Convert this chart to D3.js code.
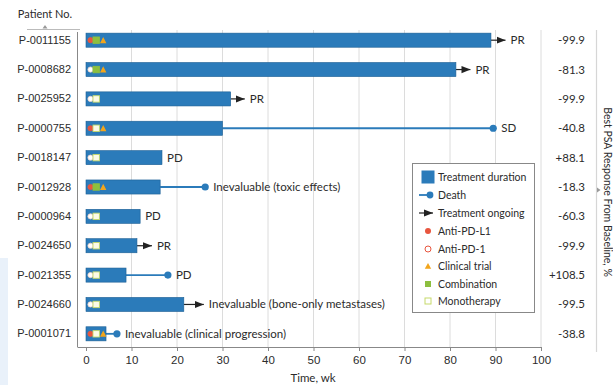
<!DOCTYPE html>
<html>
<head>
<meta charset="utf-8">
<script src="https://cdn.jsdelivr.net/npm/d3@7"></script>
<style>
  html, body { margin: 0; padding: 0; background: #fff; }
  svg { display: block; font-family: Lato, "Open Sans", sans-serif; }
</style>
</head>
<body>
<svg id="chart" width="613" height="385"></svg>
<script>
// Patients, top to bottom
const patients = ["P-0011155","P-0008682","P-0025952","P-0000755","P-0018147","P-0012928","P-0000964","P-0024650","P-0021355","P-0024660","P-0001071"];
// Weeks on treatment
const duration = [89, 81.3, 31.8, 30, 16.7, 16.3, 11.9, 11.2, 8.8, 21.5, 4.4];
// Week of death (null = none recorded)
const deathWeek = [null, null, null, 89.5, null, 26.2, null, null, 18, null, 6.8];
// Treatment still ongoing: week the arrow reaches (null = stopped)
const ongoingTo = [92.2, 84.5, 34.9, null, null, null, null, 14.5, null, 25.9, null];
// Best response
const response = ["PR","PR","PR","SD","PD","Inevaluable (toxic effects)","PD","PR","PD","Inevaluable (bone-only metastases)","Inevaluable (clinical progression)"];
// Agent: "L1" = anti-PD-L1, "P1" = anti-PD-1
const agent = ["L1","P1","P1","L1","P1","L1","P1","P1","P1","P1","L1"];
// Regimen: true = combination, false = monotherapy
const combination = [true, true, false, false, false, true, false, false, false, false, false];
// Enrolled in a clinical trial
const trial = [true, true, false, true, false, true, false, false, false, false, true];
// Best PSA response from baseline, %
const psa = ["-99.9","-81.3","-99.9","-40.8","+88.1","-18.3","-60.3","-99.9","+108.5","-99.5","-38.8"];
const xTicks = [0,10,20,30,40,50,60,70,80,90,100];

const blue = "#2b7bba", blueDark = "#1d5f94";
const red = "#e8553e", orange = "#f2a51c", green = "#8dbf3f", monoEdge = "#c6d96a", monoFill = "#fbfbe8";
const txt = "#2b2b2b";

const svg = d3.select("#chart");

// faint panel at the left edge
svg.append("rect").attr("x", 0).attr("y", 258).attr("width", 8).attr("height", 127).attr("fill", "#e9f1fa");

const x = d3.scaleLinear().domain([0, 100]).range([86, 541]);
const y = d3.scaleBand().domain(patients).range([25.5, 348.5]).paddingInner(0.52).paddingOuter(0.26);
const plotTop = 30, axisY = 347;

// grid
svg.append("g").selectAll("line").data(xTicks.slice(1)).join("line")
  .attr("x1", d => x(d)).attr("x2", d => x(d))
  .attr("y1", plotTop).attr("y2", axisY)
  .attr("stroke", "#dcdcdc").attr("stroke-width", 1);

// left spine
svg.append("line").attr("x1", 77.5).attr("x2", 77.5).attr("y1", 32).attr("y2", axisY)
  .attr("stroke", "#888").attr("stroke-width", 1);

// PSA column separator
svg.append("line").attr("x1", 596.5).attr("x2", 596.5).attr("y1", plotTop).attr("y2", 352)
  .attr("stroke", "#d6d6d6").attr("stroke-width", 1.2);

// x axis
const xAxis = d3.axisBottom(x).tickValues(xTicks).tickSize(4).tickPadding(5);
const gx = svg.append("g").attr("transform", `translate(0,${axisY})`).call(xAxis);
gx.select(".domain").attr("d", `M77.5,0.5H${x(100)}`).attr("stroke", "#888");
gx.selectAll(".tick line").attr("stroke", "#888");
gx.selectAll(".tick text").attr("fill", txt).attr("font-size", 11.5);
svg.append("text").attr("x", 313).attr("y", 382).attr("text-anchor", "middle")
  .attr("font-size", 11.5).attr("fill", txt).text("Time, wk");

// y axis labels
const yAxis = d3.axisLeft(y).tickSize(0).tickPadding(7);
const gy = svg.append("g").attr("transform", "translate(78,0)").call(yAxis);
gy.select(".domain").remove();
gy.selectAll(".tick text").attr("fill", txt).attr("font-size", 11);

// header
svg.append("text").attr("x", 45).attr("y", 18).attr("text-anchor", "middle")
  .attr("font-size", 11).attr("fill", txt).text("Patient No.");
svg.append("line").attr("x1", 27).attr("x2", 80).attr("y1", 29.5).attr("y2", 29.5)
  .attr("stroke", "#bbb");
svg.append("path").attr("d", "M42.5,28.5L45,25L47.5,28.5Z").attr("fill", "#999");

const defs = svg.append("defs");
defs.append("marker").attr("id", "arrow").attr("viewBox", "0 0 10 10")
  .attr("refX", 10).attr("refY", 5).attr("markerWidth", 9).attr("markerHeight", 9)
  .attr("markerUnits", "userSpaceOnUse").attr("orient", "auto")
  .append("path").attr("d", "M0,1L10,5L0,9Z").attr("fill", "#222");

const rows = patients.map((p, i) => ({ p, i }));
const cy = d => y(d.p) + y.bandwidth() / 2;

// death connectors
const dead = rows.filter(d => deathWeek[d.i] != null);
svg.append("g").selectAll("line").data(dead).join("line")
  .attr("x1", d => x(duration[d.i])).attr("x2", d => x(deathWeek[d.i]))
  .attr("y1", cy).attr("y2", cy).attr("stroke", blue).attr("stroke-width", 1.8);
svg.append("g").selectAll("circle").data(dead).join("circle")
  .attr("cx", d => x(deathWeek[d.i])).attr("cy", cy).attr("r", 3.6).attr("fill", blue);

// ongoing arrows
const live = rows.filter(d => ongoingTo[d.i] != null);
svg.append("g").selectAll("line").data(live).join("line")
  .attr("x1", d => x(duration[d.i])).attr("x2", d => x(ongoingTo[d.i]))
  .attr("y1", cy).attr("y2", cy).attr("stroke", "#222").attr("stroke-width", 1.2)
  .attr("marker-end", "url(#arrow)");

// bars
svg.append("g").selectAll("rect").data(rows).join("rect")
  .attr("x", x(0)).attr("y", d => y(d.p))
  .attr("width", d => x(duration[d.i]) - x(0)).attr("height", y.bandwidth())
  .attr("fill", blue).attr("stroke", blueDark).attr("stroke-width", 0.6);

// regimen markers inside bars
svg.append("g").selectAll("circle").data(rows).join("circle")
  .attr("cx", 90.5).attr("cy", cy).attr("r", 2.6)
  .attr("fill", d => agent[d.i] === "L1" ? red : "#fff")
  .attr("stroke", d => agent[d.i] === "L1" ? red : "#f3d3c6").attr("stroke-width", 0.8);
svg.append("g").selectAll("rect").data(rows).join("rect")
  .attr("x", 93).attr("y", d => cy(d) - 3.2).attr("width", 6.4).attr("height", 6.4)
  .attr("fill", d => combination[d.i] ? green : monoFill)
  .attr("stroke", d => combination[d.i] ? green : monoEdge).attr("stroke-width", 0.9);
svg.append("g").selectAll("path").data(rows.filter(d => trial[d.i])).join("path")
  .attr("d", d => `M${100},${cy(d) + 3}L${103.2},${cy(d) - 3.2}L${106.4},${cy(d) + 3}Z`)
  .attr("fill", orange);

// response labels
svg.append("g").selectAll("text").data(rows).join("text")
  .attr("x", d => {
    let end = x(duration[d.i]);
    if (deathWeek[d.i] != null) end = x(deathWeek[d.i]) + 3;
    else if (ongoingTo[d.i] != null) end = x(ongoingTo[d.i]);
    return end + 5;
  })
  .attr("y", cy).attr("dy", "0.35em").attr("font-size", 11.5).attr("fill", txt)
  .text(d => response[d.i]);

// PSA values
svg.append("g").selectAll("text").data(rows).join("text")
  .attr("x", 585).attr("y", cy).attr("dy", "0.35em").attr("text-anchor", "end")
  .attr("font-size", 11.5).attr("fill", txt).text(d => psa[d.i]);

// right title
svg.append("text").attr("transform", "translate(604,192) rotate(90)")
  .attr("text-anchor", "middle").attr("font-size", 10.5).attr("fill", txt)
  .text("Best PSA Response From Baseline, %");
svg.append("path").attr("d", "M597,187.5L600.5,190L597,192.5Z").attr("fill", "#999");

// legend
const lg = svg.append("g").attr("transform", "translate(412,163)");
lg.append("rect").attr("x", 0.5).attr("y", 0.5).attr("width", 122).attr("height", 149)
  .attr("fill", "#fff").attr("stroke", "#888");
const legendItems = ["Treatment duration","Death","Treatment ongoing","Anti-PD-L1","Anti-PD-1","Clinical trial","Combination","Monotherapy"];
const ly = [14, 32, 50, 68, 86, 103, 121, 138];
const sx = 16;
lg.selectAll("text").data(legendItems).join("text")
  .attr("x", 26).attr("y", (d, i) => ly[i]).attr("dy", "0.35em")
  .attr("font-size", 10.5).attr("fill", txt).text(d => d);
lg.append("rect").attr("x", sx - 6.5).attr("y", ly[0] - 6.5).attr("width", 13).attr("height", 13).attr("fill", blue);
lg.append("line").attr("x1", sx - 9).attr("x2", sx + 2).attr("y1", ly[1]).attr("y2", ly[1]).attr("stroke", blue).attr("stroke-width", 1.8);
lg.append("circle").attr("cx", sx + 2).attr("cy", ly[1]).attr("r", 3.4).attr("fill", blue);
lg.append("line").attr("x1", sx - 9).attr("x2", sx + 5).attr("y1", ly[2]).attr("y2", ly[2]).attr("stroke", "#222").attr("stroke-width", 1.2).attr("marker-end", "url(#arrow)");
lg.append("circle").attr("cx", sx).attr("cy", ly[3]).attr("r", 3).attr("fill", red);
lg.append("circle").attr("cx", sx).attr("cy", ly[4]).attr("r", 3).attr("fill", "#fff").attr("stroke", red).attr("stroke-width", 1);
lg.append("path").attr("d", `M${sx - 3.2},${ly[5] + 2.8}L${sx},${ly[5] - 3}L${sx + 3.2},${ly[5] + 2.8}Z`).attr("fill", orange);
lg.append("rect").attr("x", sx - 3).attr("y", ly[6] - 3).attr("width", 6).attr("height", 6).attr("fill", green);
lg.append("rect").attr("x", sx - 3).attr("y", ly[7] - 3).attr("width", 6).attr("height", 6).attr("fill", "#fff").attr("stroke", monoEdge).attr("stroke-width", 1);
</script>
</body>
</html>
